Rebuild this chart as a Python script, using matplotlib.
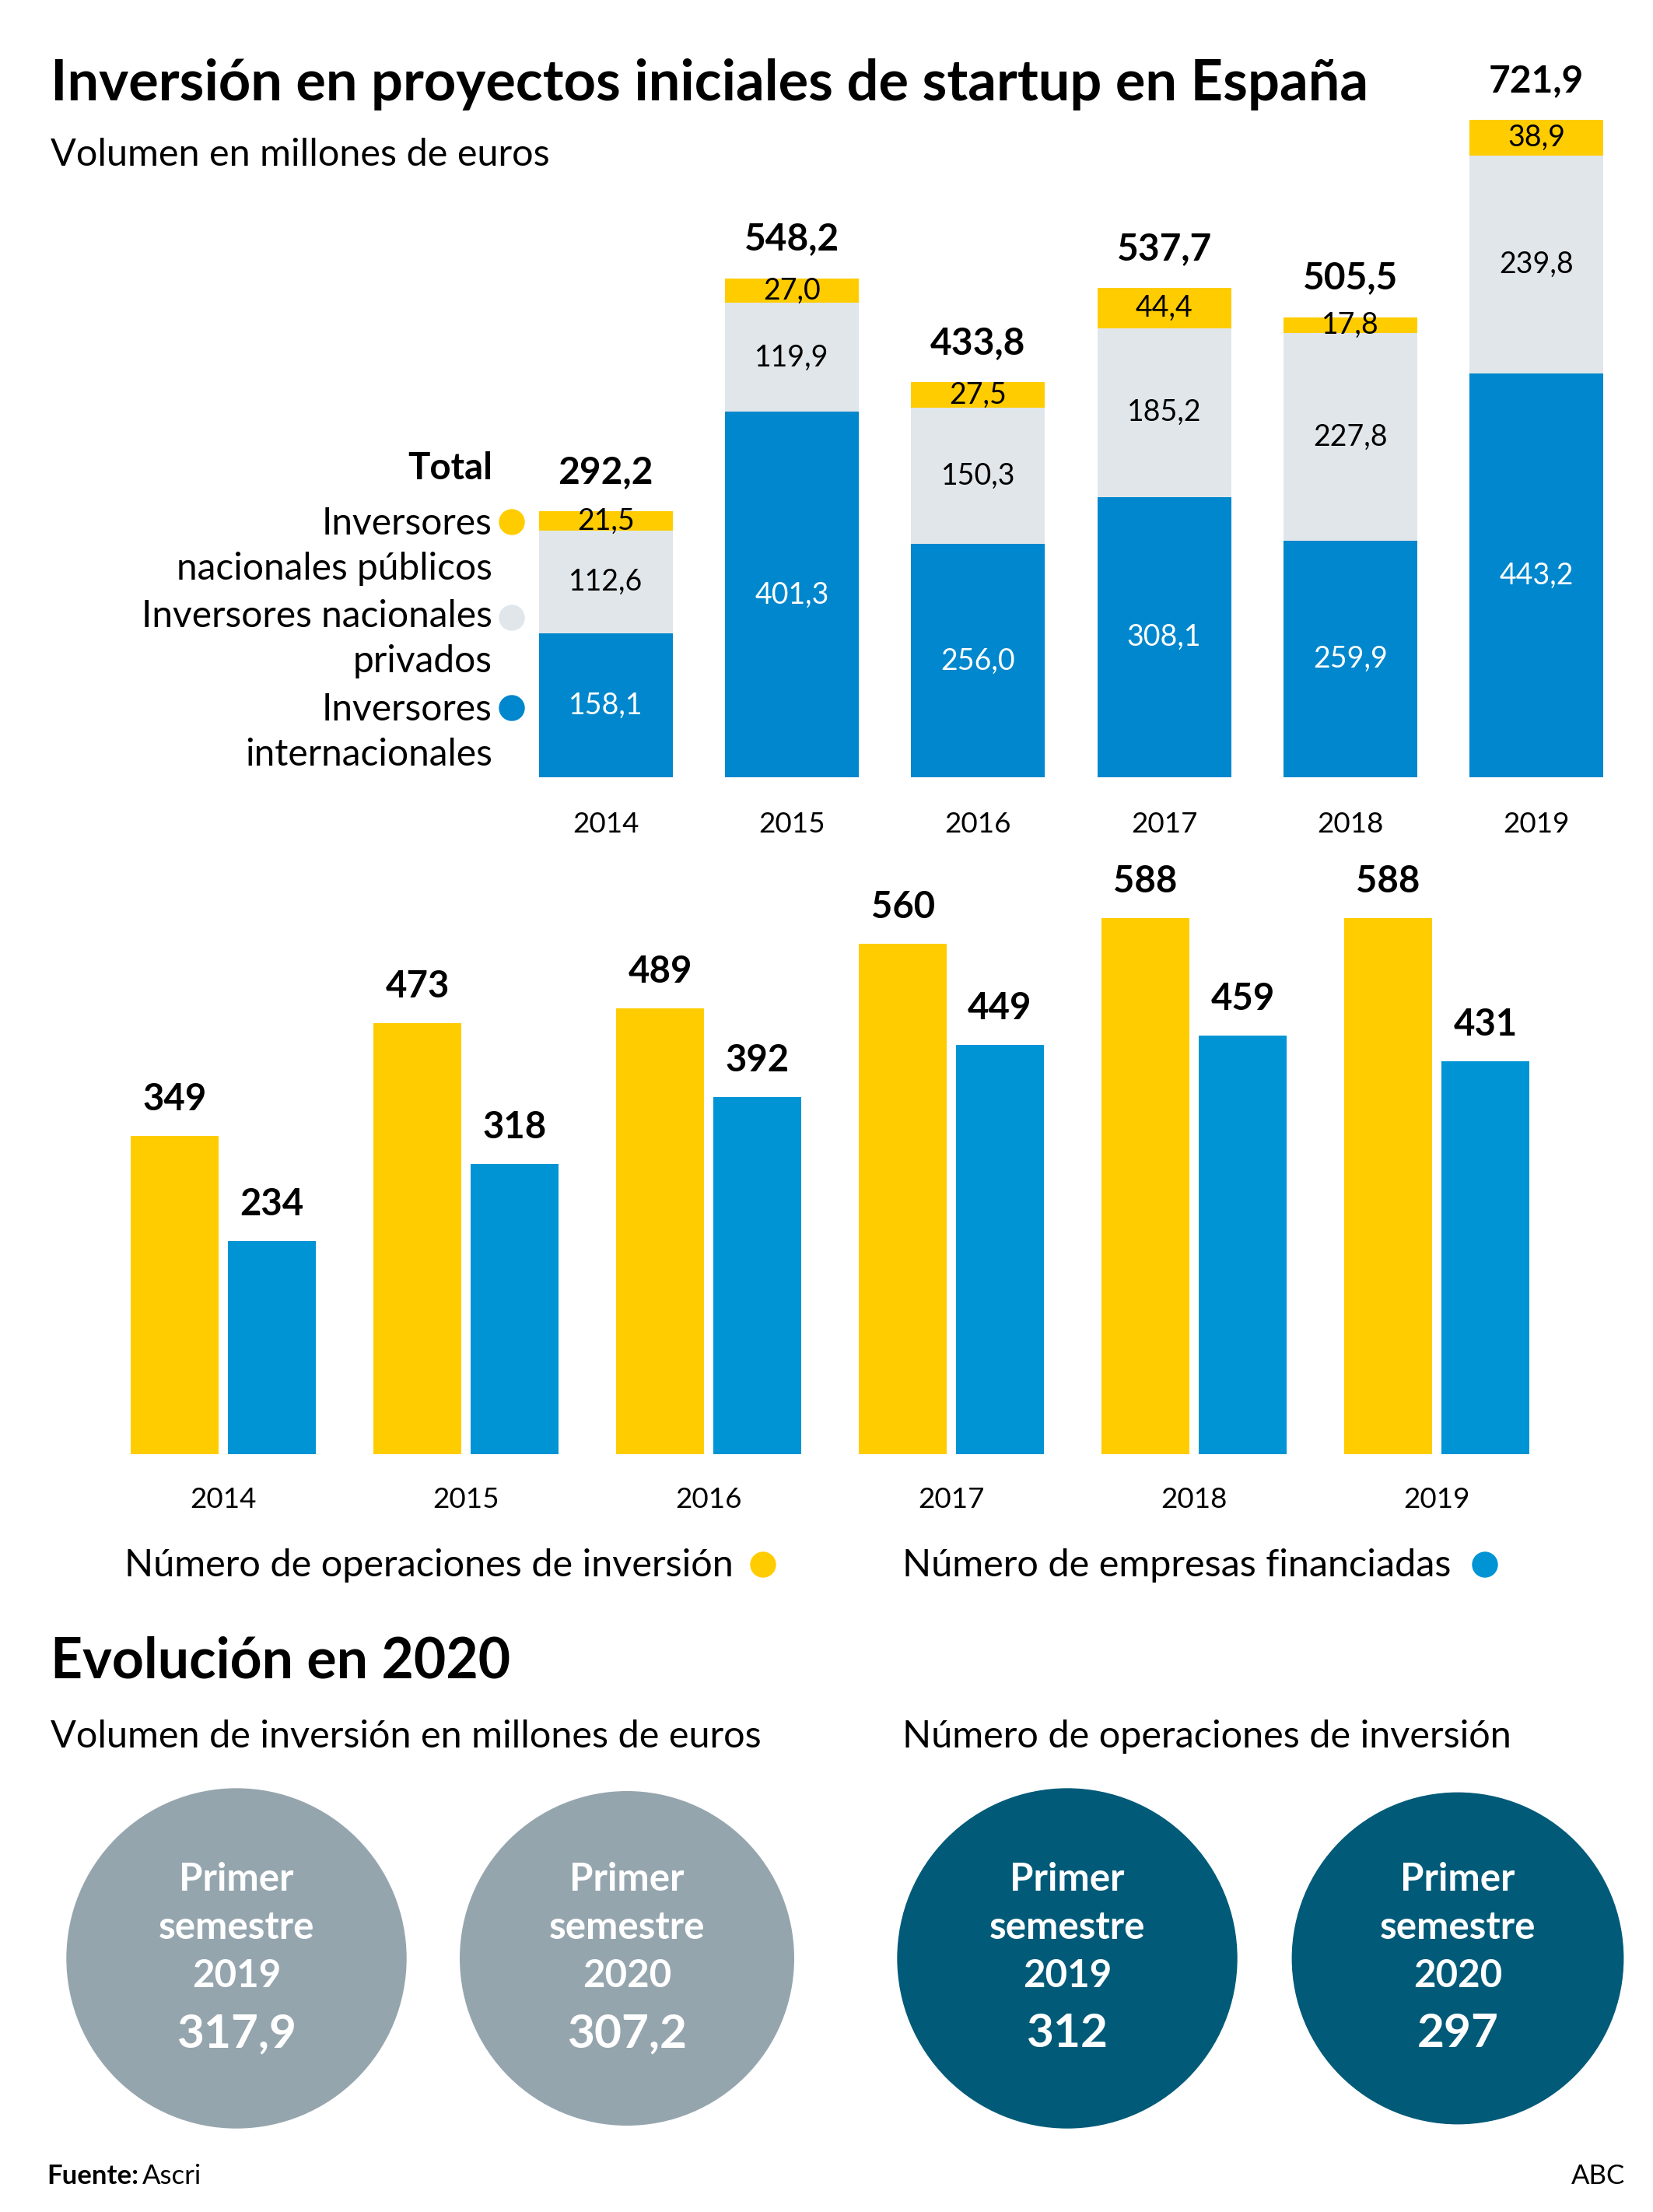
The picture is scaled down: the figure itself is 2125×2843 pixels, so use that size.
import numpy as np
import matplotlib.pyplot as plt
from matplotlib.patches import Circle

plt.rcParams['font.family'] = ['Lato', 'DejaVu Sans']

W, H = 2125, 2843

# datos
years = ['2014', '2015', '2016', '2017', '2018', '2019']
internacionales = [158.1, 401.3, 256.0, 308.1, 259.9, 443.2]
privados = [112.6, 119.9, 150.3, 185.2, 227.8, 239.8]
publicos = [21.5, 27.0, 27.5, 44.4, 17.8, 38.9]
totales = [292.2, 548.2, 433.8, 537.7, 505.5, 721.9]

operaciones = [349, 473, 489, 560, 588, 588]
empresas = [234, 318, 392, 449, 459, 431]

semestres = ['2019', '2020']
vol_2020 = [317.9, 307.2]
ops_2020 = [312, 297]

YELLOW = '#FFCC00'
LGRAY = '#E1E6EA'
BLUE = '#0087CD'
BLUE2 = '#0094D4'
CGRAY = '#95A5AE'
TEAL = '#005A78'


def fmt(v):
    return f'{v:.1f}'.replace('.', ',')


def ax_box(left, top, right, bottom):
    return fig.add_axes([left / W, 1 - bottom / H, (right - left) / W, (bottom - top) / H])


fig = plt.figure(figsize=(W / 100, H / 100), dpi=100)

# --- grafico de volumen ---
ax1 = ax_box(659, 63, 2095, 999)
x = np.arange(len(years))
inter = np.array(internacionales)
priv = np.array(privados)
pub = np.array(publicos)
ax1.bar(x, inter, 0.72, color=BLUE)
ax1.bar(x, priv, 0.72, bottom=inter, color=LGRAY)
ax1.bar(x, pub, 0.72, bottom=inter + priv, color=YELLOW)
for i in range(len(years)):
    ax1.text(x[i], inter[i] / 2, fmt(inter[i]), ha='center', va='center', fontsize=27, color='white')
    ax1.text(x[i], inter[i] + priv[i] / 2, fmt(priv[i]), ha='center', va='center', fontsize=27, color='black')
    ax1.text(x[i], inter[i] + priv[i] + pub[i] / 2, fmt(pub[i]), ha='center', va='center', fontsize=27, color='black')
    ax1.annotate(fmt(totales[i]), (x[i], totales[i]), xytext=(0, 50), textcoords='offset pixels',
                 ha='center', va='center', fontsize=34.5, fontweight='bold')
ax1.set_xlim(-0.5, 5.5)
ax1.set_ylim(0, 800)
ax1.set_xticks(x, years)
ax1.set_yticks([])
ax1.tick_params(axis='x', length=0, pad=32, labelsize=26.5)
for s in ax1.spines.values():
    s.set_visible(False)
ax1.patch.set_alpha(0)

# --- grafico de operaciones ---
ax2 = ax_box(131, 1049, 2003, 1869)
ax2.bar(x - 0.2, operaciones, 0.36, color=YELLOW)
ax2.bar(x + 0.2, empresas, 0.36, color=BLUE2)
for i in range(len(years)):
    ax2.annotate(str(operaciones[i]), (x[i] - 0.2, operaciones[i]), xytext=(0, 47), textcoords='offset pixels',
                 ha='center', va='center', fontsize=34, fontweight='bold')
    ax2.annotate(str(empresas[i]), (x[i] + 0.2, empresas[i]), xytext=(0, 47), textcoords='offset pixels',
                 ha='center', va='center', fontsize=34, fontweight='bold')
ax2.set_xlim(-0.5, 5.5)
ax2.set_ylim(0, 700)
ax2.set_xticks(x, years)
ax2.set_yticks([])
ax2.tick_params(axis='x', length=0, pad=30, labelsize=26.5)
for s in ax2.spines.values():
    s.set_visible(False)
ax2.patch.set_alpha(0)

# --- capa de textos y circulos (coordenadas en pixeles) ---
ov = fig.add_axes([0, 0, 1, 1])
ov.set_xlim(0, W)
ov.set_ylim(H, 0)
ov.axis('off')

ov.text(65, 109, 'Inversión en proyectos iniciales de startup en España', fontsize=52,
        fontweight='bold', va='center')
ov.text(65, 199, 'Volumen en millones de euros', fontsize=35, va='center')

ov.text(633, 602, 'Total', fontsize=34, fontweight='bold', ha='right', va='center')
leg_lines = [('Inversores', 673), ('nacionales públicos', 731), ('Inversores nacionales', 792),
             ('privados', 850), ('Inversores', 912), ('internacionales', 970)]
for t, y in leg_lines:
    ov.text(633, y, t, fontsize=34.5, ha='right', va='center')
for c, y in [(YELLOW, 671), (LGRAY, 794), (BLUE, 910)]:
    ov.add_patch(Circle((658, y), 16, color=c))

ov.text(943, 2012, 'Número de operaciones de inversión', fontsize=35, ha='right', va='center')
ov.add_patch(Circle((981, 2011), 16, color=YELLOW))
ov.text(1160, 2012, 'Número de empresas financiadas', fontsize=35, ha='left', va='center')
ov.add_patch(Circle((1909, 2011), 16, color=BLUE2))

ov.text(65, 2136, 'Evolución en 2020', fontsize=51.5, fontweight='bold', va='center')
ov.text(65, 2232, 'Volumen de inversión en millones de euros', fontsize=35, va='center')
ov.text(1160, 2232, 'Número de operaciones de inversión', fontsize=35, va='center')

circ_x = [304, 806, 1372, 1874]
groups = [(vol_2020, CGRAY, fmt), (ops_2020, TEAL, str)]
k = 0
for vals, col, f in groups:
    for j, v in enumerate(vals):
        r = 218 * np.sqrt(v / vals[0])
        cx = circ_x[k]
        ov.add_patch(Circle((cx, 2517), r, color=col))
        for t, y in [('Primer', 2415), ('semestre', 2478), (semestres[j], 2540)]:
            ov.text(cx, y, t, fontsize=35.5, fontweight='bold', color='white', ha='center', va='center')
        ov.text(cx, 2614, f(v), fontsize=43.5, fontweight='bold', color='white', ha='center', va='center')
        k += 1

ov.text(60, 2797, 'Fuente:', fontsize=25, fontweight='bold', va='center')
ov.text(183, 2797, 'Ascri', fontsize=25, va='center')
ov.text(2089, 2797, 'ABC', fontsize=25, ha='right', va='center')

fig.savefig('out.png', dpi=100)
